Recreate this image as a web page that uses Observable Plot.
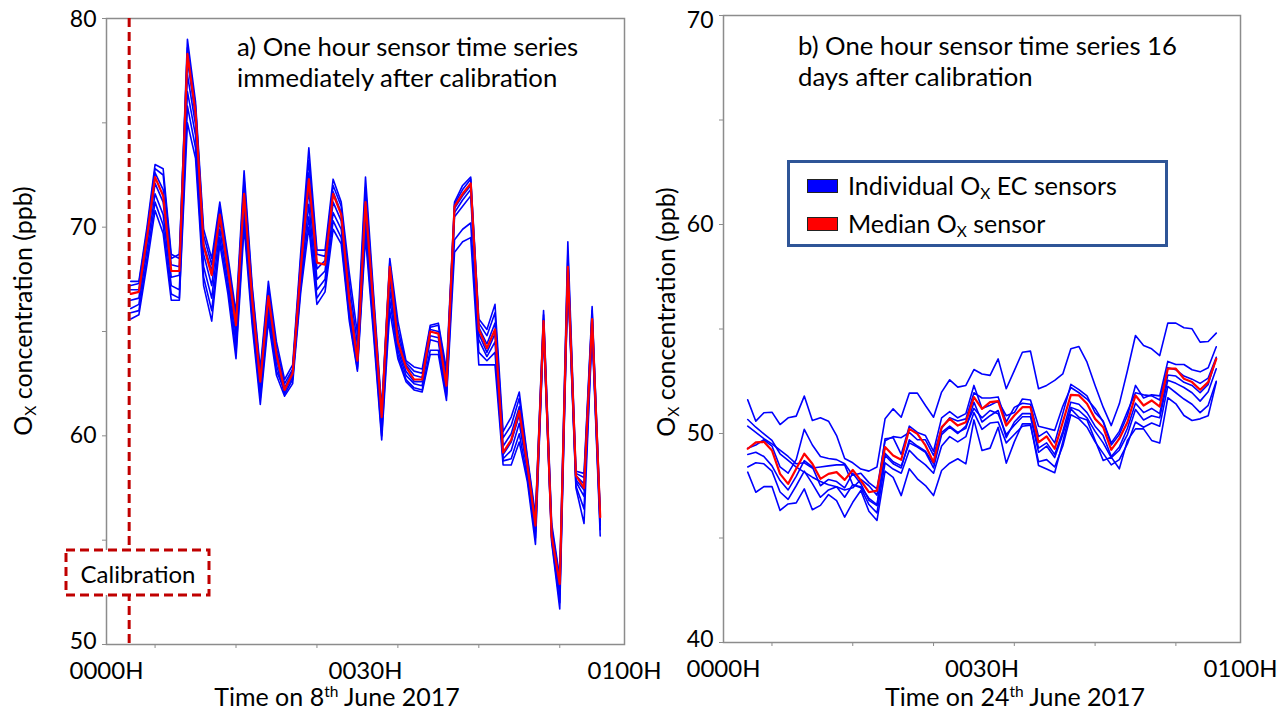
<!DOCTYPE html>
<html>
<head>
<meta charset="utf-8">
<script src="https://cdn.jsdelivr.net/npm/d3@7"></script>
<script src="https://cdn.jsdelivr.net/npm/@observablehq/plot@0.6"></script>
<style>
  body { margin: 0; background: #fff; font-family: Lato, "Open Sans", sans-serif; }
  #wrap { position: relative; width: 1277px; height: 711px; overflow: hidden; background: #fff; }
  .plot { position: absolute; top: 0; }
  .txt { position: absolute; font-family: Lato, sans-serif; color: #000; white-space: nowrap; }
  .title { font-size: 25.7px; line-height: 31px; }
  .axlab { font-size: 25px; line-height: 24px; transform: translate(-50%, -50%); }
  .ylab { font-size: 25px; line-height: 30px; transform: translate(-50%, -50%) rotate(-90deg); }
  sub { font-size: 62%; vertical-align: -0.25em; line-height: 0; }
  sup { font-size: 62%; vertical-align: 0.55em; line-height: 0; }
  #legend { position: absolute; left: 787px; top: 160px; width: 375px; height: 81px; border: 3px solid #2f5597; background: #fff; }
  .sw { position: absolute; left: 17px; width: 29px; height: 12px; border: 1px solid #222; }
  .ltxt { position: absolute; left: 58px; font-size: 25px; line-height: 30px; font-family: Lato, sans-serif; white-space: nowrap; }
  g[aria-label="y-axis tick"], g[aria-label="x-axis tick"] { stroke: #8c8c8c; }
</style>
</head>
<body>
<div id="wrap">
  <div id="p1" class="plot" style="left:0px"></div>
  <div id="p2" class="plot" style="left:640px"></div>

  <div class="txt title" style="left:237px;top:31px">a) One hour sensor time series<br>immediately after calibration</div>
  <div class="txt title" style="left:798px;top:30px">b) One hour sensor time series 16<br>days after calibration</div>

  <div class="txt ylab" style="left:22px;top:311px">O<sub>X</sub> concentration (ppb)</div>
  <div class="txt ylab" style="left:665px;top:312px">O<sub>X</sub> concentration (ppb)</div>

  <div class="txt axlab" style="left:337px;top:696px">Time on 8<sup>th</sup> June 2017</div>
  <div class="txt axlab" style="left:1015px;top:696px">Time on 24<sup>th</sup> June 2017</div>

  <div id="legend">
    <div class="sw" style="top:16px;background:#0000ff"></div>
    <div class="ltxt" style="top:7px">Individual O<sub>X</sub> EC sensors</div>
    <div class="sw" style="top:54px;background:#ff0000"></div>
    <div class="ltxt" style="top:45px">Median O<sub>X</sub> sensor</div>
  </div>

  <svg id="calib" style="position:absolute;left:60px;top:545px" width="160" height="60">
    <rect x="6" y="5" width="143" height="45" fill="#fff" stroke="#c00000" stroke-width="3" stroke-dasharray="9,5"></rect>
    <text x="78" y="28" text-anchor="middle" dominant-baseline="central" font-family="Lato, sans-serif" font-size="24">Calibration</text>
  </svg>
</div>

<script>
// ---------------- data ----------------
// Panel a) 8th June 2017, one value per minute
const leftMedian = [66.8,66.9,69.5,72.4,71.5,67.9,67.9,78.3,75.5,69.1, 67.7,70.6,68.0,65.3,71.6,66.5,62.6,66.7,63.9,62.2, 63.0,68.0,72.3,68.3,68.2,71.6,70.6,66.5,63.6,71.2, 66.1,60.9,68.1,64.5,63.3,62.7,62.7,65.0,64.9,62.4, 71.0,71.6,72.1,65.1,64.2,65.1,59.2,59.8,61.2,58.6, 55.7,65.5,55.2,52.9,68.1,58.1,57.5,65.6,56.1];
const leftS1 = [67.4,67.4,70.0,73.0,72.8,68.7,68.5,79.0,76.0,69.9, 68.5,71.2,68.6,65.9,72.7,67.2,63.2,67.4,64.5,62.7, 63.4,68.8,73.8,68.9,68.9,72.3,71.2,67.8,64.9,72.4, 66.8,61.3,68.5,65.5,63.6,63.3,63.2,65.3,65.4,63.2, 71.2,72.0,72.4,65.6,65.1,66.3,60.2,60.9,62.1,59.0, 56.2,66.0,55.8,53.2,69.3,58.3,58.2,66.2,56.3];
const leftS2 = [67.2,67.3,69.8,72.8,72.5,68.5,68.7,78.6,75.8,69.6, 68.2,71.0,68.4,65.6,72.3,67.0,63.0,67.1,64.2,62.5, 63.2,68.5,73.2,68.7,68.6,72.0,71.0,67.3,64.4,71.9, 66.5,61.1,68.3,65.1,63.5,63.1,63.0,65.2,65.3,62.9, 71.1,71.8,72.3,65.4,64.8,65.9,59.9,60.5,61.8,58.9, 56.0,65.8,55.6,53.1,68.8,58.2,58.0,66.0,56.2];
const leftS3 = [67.0,67.0,69.6,72.6,71.8,68.2,68.1,78.0,75.3,69.2, 67.9,70.8,68.1,65.2,71.8,66.7,62.7,66.8,64.0,62.3, 63.1,68.2,72.6,68.0,68.4,71.7,70.7,66.8,63.9,71.5, 66.2,60.8,67.9,64.8,63.4,62.9,62.8,65.1,65.0,62.6, 70.9,71.5,72.0,65.2,64.4,65.4,59.5,60.1,61.4,58.7, 55.8,65.6,55.4,52.9,68.4,58.1,57.7,65.8,56.1];
const leftS4 = [66.5,66.6,69.3,72.1,71.2,67.6,67.7,77.3,74.9,68.7, 67.2,70.3,67.8,64.8,71.3,66.3,62.4,66.4,63.7,62.1, 62.9,67.8,71.8,67.5,67.9,71.2,70.3,66.3,63.5,70.9, 65.8,60.6,67.5,64.3,63.1,62.6,62.6,64.8,64.7,62.3, 70.7,71.3,71.8,64.9,64.0,64.9,59.1,59.7,61.0,58.5, 55.6,65.4,55.2,52.7,68.0,57.9,57.4,65.5,55.9];
const leftS5 = [66.1,66.3,68.9,71.6,70.6,67.2,67.0,76.5,74.4,68.1, 66.6,69.9,67.4,64.4,70.9,65.9,62.0,66.1,63.4,62.0, 62.7,67.4,71.1,67.0,67.5,70.7,69.9,66.0,63.3,70.4, 65.4,60.3,67.0,64.1,62.9,62.5,62.4,64.6,64.5,62.0, 70.5,71.0,71.5,64.6,63.8,64.5,58.9,59.3,60.6,58.3, 55.4,65.3,55.1,52.4,67.8,57.8,57.1,65.3,55.7];
const leftS6 = [65.9,66.0,68.5,71.2,70.1,66.8,66.6,75.8,73.8,67.6, 66.0,69.5,67.1,64.0,70.4,65.6,61.8,65.8,63.1,62.2, 62.8,67.1,70.5,66.6,67.2,70.3,69.5,65.7,63.2,69.9, 65.1,60.0,66.5,63.9,62.7,62.3,62.2,64.1,64.1,61.9, 69.4,69.9,70.2,64.0,63.6,64.0,58.8,58.9,60.1,58.0, 55.1,65.1,55.0,52.0,67.6,57.6,56.5,65.1,55.5];
const leftS7 = [65.6,65.8,68.2,70.8,69.7,66.5,66.5,75.0,73.3,67.2, 65.5,69.2,66.8,63.7,70.0,65.3,61.5,65.5,62.9,61.9, 62.5,66.9,70.0,66.3,66.9,69.9,69.2,65.5,63.1,69.5, 64.8,59.8,66.0,63.7,62.6,62.2,62.1,63.9,63.9,61.7, 68.8,69.3,69.5,63.4,63.4,63.4,58.6,58.6,59.7,57.8, 54.8,65.0,54.9,51.7,67.5,57.5,55.8,65.0,55.2];

// Panel b) 24th June 2017
const rightMedian = [49.27,49.58,49.60,49.19,48.07,47.59,48.31,49.03,48.55,47.83, 48.07,48.15,47.78,48.26,47.75,47.19,47.27,49.35,48.95,48.74, 50.22,49.98,49.43,48.63,50.30,50.70,50.38,50.54,51.74,51.18, 51.50,51.55,50.38,50.86,51.26,51.26,49.58,49.86,49.27,50.54, 51.85,51.82,51.42,50.70,50.30,49.22,49.75,50.54,51.82,51.34, 51.58,51.29,53.10,53.10,52.62,52.46,52.09,52.46,53.57];
const rightS1 = [51.61,50.59,50.99,51.02,50.43,50.75,50.83,51.79,50.62,50.75, 50.59,49.90,48.80,48.60,48.30,48.20,48.40,50.70,51.18,50.78, 51.93,51.93,51.34,50.78,51.98,52.57,52.22,52.30,53.06,52.85, 52.78,53.57,52.14,53.01,53.89,53.94,52.14,52.30,52.54,52.85, 54.05,54.16,53.41,52.30,51.26,50.38,51.42,53.00,54.69,54.21, 54.05,53.73,55.28,55.28,55.06,55.01,54.37,54.40,54.80];
const rightS2 = [50.67,50.30,49.98,49.67,49.03,48.71,48.39,48.15,47.91,47.70, 47.55,47.45,47.30,47.40,47.80,47.50,47.05,49.75,49.80,49.00, 50.35,50.05,49.90,49.15,50.75,51.05,50.75,50.95,52.30,51.20, 51.35,51.55,50.85,51.00,51.65,51.60,50.35,50.25,50.15,51.30, 52.20,51.95,51.65,51.20,50.55,49.45,49.95,50.85,52.30,51.70, 51.85,51.80,53.45,53.30,53.30,53.05,52.95,53.15,54.15];
const rightS3 = [50.35,50.05,49.75,49.50,49.20,48.90,48.55,48.60,48.35,48.40, 48.45,48.50,48.50,47.55,47.45,46.90,46.60,48.95,48.55,48.35, 49.70,49.40,49.15,48.55,50.05,50.35,50.05,50.25,51.50,50.55, 50.85,51.10,49.80,50.55,50.95,50.95,49.30,49.55,49.00,50.10, 51.50,51.40,51.00,50.35,49.90,48.90,49.35,50.25,51.45,51.00, 51.20,50.95,52.80,52.75,52.45,52.30,51.95,52.35,53.60];
const rightS4 = [49.30,49.45,49.70,49.40,48.40,48.10,48.75,50.20,49.45,48.90, 48.80,48.75,48.55,48.00,48.10,47.65,47.35,49.65,49.85,49.80, 50.05,49.70,49.70,48.95,50.25,50.75,50.60,50.70,51.95,51.70, 51.70,51.75,50.55,51.25,51.45,51.40,49.85,50.10,49.55,50.95, 52.35,52.10,51.80,51.00,50.60,49.55,50.10,51.05,51.95,51.85, 51.80,51.60,53.15,53.05,52.75,52.60,52.40,52.65,53.65];
const rightS5 = [49.00,49.10,48.90,48.45,47.75,47.30,47.95,48.70,48.40,47.50, 47.80,47.70,47.40,48.10,47.60,46.80,46.55,49.05,48.65,48.45, 49.55,49.35,49.10,48.35,49.95,50.30,50.00,50.35,51.20,50.75, 51.10,50.95,49.95,50.40,50.80,50.80,49.10,49.40,48.85,49.95, 51.25,51.10,50.75,50.10,49.55,48.85,49.20,49.95,51.15,50.65, 50.85,50.75,52.55,52.40,52.20,51.95,51.55,52.00,53.10];
const rightS6 = [48.40,48.60,48.55,48.20,47.20,46.85,47.50,48.20,47.60,46.95, 47.30,47.45,46.95,47.55,47.40,46.60,46.20,48.60,48.30,48.10, 49.20,48.80,48.50,48.10,49.40,49.85,49.60,49.85,51.00,50.20, 50.50,50.55,49.55,49.95,50.35,50.40,48.65,48.75,48.40,49.40, 50.90,50.70,50.30,49.60,49.05,48.50,48.75,49.50,50.55,50.30, 50.50,50.35,52.25,51.95,51.65,51.40,51.00,51.35,52.50];
const rightS7 = [48.15,47.19,47.46,47.46,46.32,46.63,46.68,47.35,46.35,46.56, 47.08,46.79,46.00,46.71,47.27,46.28,45.84,48.20,47.90,47.03, 48.31,47.83,47.51,47.03,48.23,48.58,48.79,48.55,50.65,49.19, 49.30,50.30,48.58,49.60,50.46,50.46,48.47,48.30,48.12,49.59, 51.18,50.78,50.65,49.67,48.71,48.87,48.31,49.67,50.22,50.22, 49.67,49.54,51.71,51.42,50.86,50.62,50.70,50.85,52.46];

// Axes (minutes from first reading)
const minuteDomain = [-3, 61];
const minorTickMinutes = [3, 13, 23, 33, 43, 53];
const timeLabelMinutes = [-3, 29, 61];
const timeLabels = ["0000H", "0030H", "0100H"];
const leftYDomain = [50, 80];
const rightYDomain = [40, 70];
const leftYTicks = [50, 55, 60, 65, 70, 75, 80];
const rightYTicks = [40, 45, 50, 55, 60, 65, 70];
const leftYLabels = [50, 60, 70, 80];
const rightYLabels = [40, 50, 60, 70];
const calibrationMinute = [-0.2];

// ---------------- build ----------------
function rows(series) {
  const out = [];
  series.forEach((vals, s) => vals.forEach((v, i) => out.push({t: i, v, sensor: s})));
  return out;
}

function panel({width, height, mt, mr, mb, ml, yDomain, yTicks, yLabels, topDy, sensors, median, calib}) {
  const labelOpts = {tickSize: 0, tickPadding: 10, fontSize: 23, label: null, tickFormat: d => String(d)};
  const marks = [
    Plot.frame({stroke: "#8c8c8c", strokeWidth: 1.5}),
    Plot.axisY({ticks: yTicks, tickSize: 4, label: null, tickFormat: () => ""}),
    Plot.axisY({...labelOpts, ticks: yLabels.slice(0, 1), dy: -3}),
    Plot.axisY({...labelOpts, ticks: yLabels.slice(1, -1)}),
    Plot.axisY({...labelOpts, ticks: yLabels.slice(-1), dy: topDy}),
    Plot.axisX({ticks: minorTickMinutes, tickSize: 4, label: null, tickFormat: () => ""}),
    Plot.axisX({ticks: timeLabelMinutes, tickSize: 0, tickPadding: 17, fontSize: 24, label: null,
      tickFormat: d => timeLabels[timeLabelMinutes.indexOf(d)]}),
    Plot.lineY(rows(sensors), {x: "t", y: "v", z: "sensor", stroke: "#0000ff", strokeWidth: 1.6}),
    Plot.lineY(rows([median]), {x: "t", y: "v", stroke: "#ff0000", strokeWidth: 2.2})
  ];
  if (calib) {
    marks.push(Plot.ruleX(calibrationMinute, {stroke: "#c00000", strokeWidth: 3, strokeDasharray: "9,5"}));
  }
  return Plot.plot({
    width, height,
    marginTop: mt, marginRight: mr, marginBottom: mb, marginLeft: ml,
    x: {domain: minuteDomain, axis: null},
    y: {domain: yDomain, axis: null},
    style: {fontFamily: "Lato, sans-serif", fontSize: "24px", color: "#000", background: "transparent", overflow: "visible"},
    marks
  });
}

document.getElementById("p1").appendChild(panel({
  width: 640, height: 711, mt: 18, mr: 16, mb: 67, ml: 106,
  yDomain: leftYDomain, yTicks: leftYTicks, yLabels: leftYLabels, topDy: 1,
  sensors: [leftS1, leftS2, leftS3, leftS4, leftS5, leftS6, leftS7],
  median: leftMedian, calib: true
}));

document.getElementById("p2").appendChild(panel({
  width: 637, height: 711, mt: 15, mr: 37, mb: 69, ml: 83,
  yDomain: rightYDomain, yTicks: rightYTicks, yLabels: rightYLabels, topDy: 5,
  sensors: [rightS1, rightS2, rightS3, rightS4, rightS5, rightS6, rightS7],
  median: rightMedian, calib: false
}));
</script>
</body>
</html>
